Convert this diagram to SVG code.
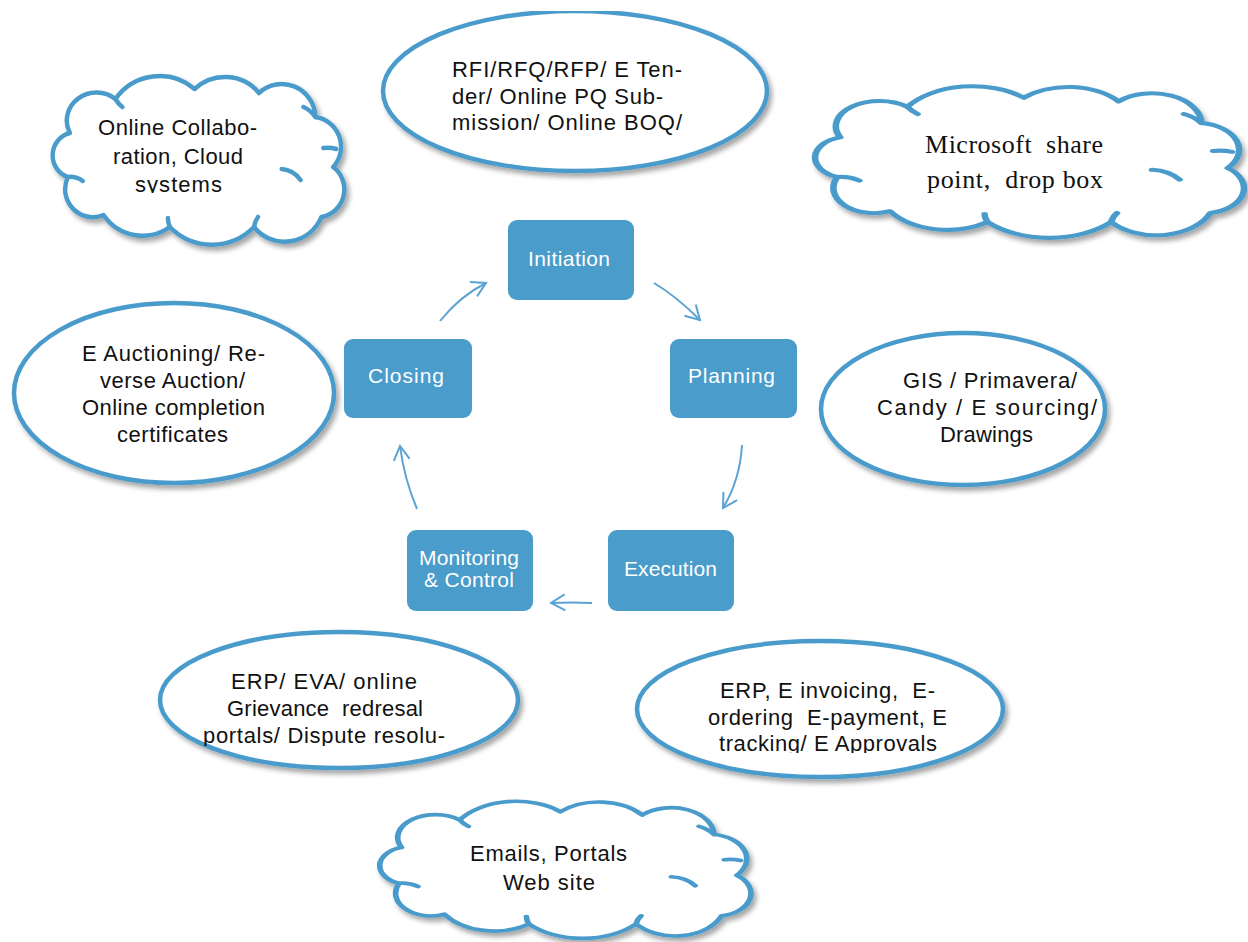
<svg xmlns="http://www.w3.org/2000/svg" width="1248" height="942" viewBox="0 0 1248 942">
  <style>
    .bubble { fill: #ffffff; stroke: #4a9bcb; stroke-width: 4.5; }
    .cloud { fill: #ffffff; stroke: #4a9bcb; stroke-width: 4.5; stroke-linejoin: round; }
    .hook { fill: none; stroke: #4a9bcb; stroke-width: 4.5; stroke-linecap: round; }
    .phase { fill: #4a9cca; }
    .note { font-family: "Liberation Sans", Arial, sans-serif; font-size: 22px; fill: #111111; white-space: pre; }
    .serif { font-family: "Liberation Serif", "Times New Roman", serif; font-size: 26px; fill: #111111; white-space: pre; }
    .label { font-family: "Liberation Sans", Arial, sans-serif; font-size: 21px; fill: #ffffff; }
    .flow { fill: none; stroke: #5aa3d4; stroke-width: 2; marker-end: url(#chevron); }
  </style>
  <defs>
    <filter id="shadow" x="-10%" y="-10%" width="125%" height="130%">
      <feDropShadow dx="3" dy="4" stdDeviation="2.5" flood-color="#000000" flood-opacity="0.35"/>
    </filter>
    <marker id="chevron" viewBox="0 0 20 20" refX="18" refY="10" markerWidth="20" markerHeight="20" markerUnits="userSpaceOnUse" orient="auto">
      <path d="M4 2 L18 10 L4 18" fill="none" stroke="#5aa3d4" stroke-width="2"/>
    </marker>
    <!-- generic cloud outline and inner arcs in a 292 x 166 frame -->
    <path id="cloudShape" d="M12 100 A23 23 0 0 1 14 56 A30 28 0 0 1 60 22 A55 55 0 0 1 140 12 A45 45 0 0 1 205 16 A34 34 0 0 1 262 40 A30 30 0 0 1 280 90 A28 28 0 0 1 268 140 A40 40 0 0 1 200 150 A60 60 0 0 1 115 150 A48 48 0 0 1 48 138 A28 28 0 0 1 12 100 Z"/>
    <path id="cloudHooks" d="M12 100 Q20 99 27 104 M250 30 Q257 33 262 40 M283 72 Q277 70 270 71 M228 92 Q240 93 247 103 M200 150 Q201 144 204 140 M115 150 Q113 145 113 141 M60 22 Q63 27 67 30"/>
    <clipPath id="topCut"><rect x="0" y="11" width="1248" height="931"/></clipPath>
    <clipPath id="cutCloud1"><rect x="0" y="0" width="1248" height="193"/></clipPath>
    <clipPath id="cutErpLeft"><rect x="0" y="0" width="1248" height="746"/></clipPath>
    <clipPath id="cutErpRight"><rect x="0" y="0" width="1248" height="753"/></clipPath>
  </defs>

  <!-- tool clouds -->
  <g id="cloud-collaboration">
    <g filter="url(#shadow)">
      <g transform="translate(56,77) scale(0.99,1)">
        <use href="#cloudShape" class="cloud" vector-effect="non-scaling-stroke"/>
        <use href="#cloudHooks" class="hook" vector-effect="non-scaling-stroke"/>
      </g>
    </g>
    <g clip-path="url(#cutCloud1)">
      <text class="note" x="98" y="135" textLength="159">Online Collabo-</text>
      <text class="note" x="113" y="164" textLength="130">ration, Cloud</text>
      <text class="note" x="135" y="192" textLength="87">systems</text>
    </g>
  </g>

  <g id="cloud-sharepoint">
    <g filter="url(#shadow)">
      <g transform="translate(820,87) scale(1.456,0.9)">
        <use href="#cloudShape" class="cloud" vector-effect="non-scaling-stroke"/>
        <use href="#cloudHooks" class="hook" vector-effect="non-scaling-stroke"/>
      </g>
    </g>
    <text class="serif" x="925" y="153" textLength="178">Microsoft  share</text>
    <text class="serif" x="927" y="188" textLength="176">point,  drop box</text>
  </g>

  <g id="cloud-emails">
    <g filter="url(#shadow)">
      <g transform="translate(384,802) scale(1.26,0.813)">
        <use href="#cloudShape" class="cloud" vector-effect="non-scaling-stroke"/>
        <use href="#cloudHooks" class="hook" vector-effect="non-scaling-stroke"/>
      </g>
    </g>
    <text class="note" x="470" y="861" textLength="157">Emails, Portals</text>
    <text class="note" x="503" y="890" textLength="92">Web site</text>
  </g>

  <!-- tool ellipses -->
  <g id="bubble-tender" clip-path="url(#topCut)">
    <ellipse class="bubble" cx="575" cy="91" rx="192" ry="80" filter="url(#shadow)"/>
    <text class="note" x="452" y="77" textLength="230">RFI/RFQ/RFP/ E Ten-</text>
    <text class="note" x="452" y="104" textLength="211">der/ Online PQ Sub-</text>
    <text class="note" x="452" y="130" textLength="230">mission/ Online BOQ/</text>
  </g>

  <g id="bubble-auction">
    <ellipse class="bubble" cx="174" cy="393" rx="160" ry="90" filter="url(#shadow)"/>
    <text class="note" x="82" y="361" textLength="183">E Auctioning/ Re-</text>
    <text class="note" x="100" y="388" textLength="145">verse Auction/</text>
    <text class="note" x="82" y="415" textLength="183">Online completion</text>
    <text class="note" x="117" y="442" textLength="111">certificates</text>
  </g>

  <g id="bubble-planning-tools">
    <ellipse class="bubble" cx="963" cy="409" rx="142" ry="76" filter="url(#shadow)"/>
    <text class="note" x="903" y="388" textLength="174">GIS / Primavera/</text>
    <text class="note" x="877" y="415" textLength="220">Candy / E sourcing/</text>
    <text class="note" x="940" y="442" textLength="93">Drawings</text>
  </g>

  <g id="bubble-grievance">
    <ellipse class="bubble" cx="339" cy="700" rx="179" ry="68" filter="url(#shadow)"/>
    <g clip-path="url(#cutErpLeft)">
      <text class="note" x="231" y="689" textLength="186">ERP/ EVA/ online</text>
      <text class="note" x="227" y="716" textLength="196">Grievance  redresal</text>
      <text class="note" x="203" y="743" textLength="242">portals/ Dispute resolu-</text>
    </g>
  </g>

  <g id="bubble-invoicing">
    <ellipse class="bubble" cx="820" cy="709" rx="183" ry="68" filter="url(#shadow)"/>
    <g clip-path="url(#cutErpRight)">
      <text class="note" x="720" y="698" textLength="215">ERP, E invoicing,  E-</text>
      <text class="note" x="708" y="725" textLength="239">ordering  E-payment, E</text>
      <text class="note" x="719" y="751" textLength="218">tracking/ E Approvals</text>
    </g>
  </g>

  <!-- project phases -->
  <g id="phase-initiation">
    <rect class="phase" x="508" y="220" width="126" height="80" rx="9"/>
    <text class="label" x="528" y="266" textLength="82">Initiation</text>
  </g>
  <g id="phase-planning">
    <rect class="phase" x="670" y="339" width="127" height="79" rx="9"/>
    <text class="label" x="688" y="383" textLength="87">Planning</text>
  </g>
  <g id="phase-execution">
    <rect class="phase" x="608" y="530" width="126" height="81" rx="9"/>
    <text class="label" x="624" y="576" textLength="93">Execution</text>
  </g>
  <g id="phase-monitoring">
    <rect class="phase" x="407" y="530" width="126" height="81" rx="9"/>
    <text class="label" x="419" y="565" textLength="100">Monitoring</text>
    <text class="label" x="424" y="587" textLength="90">&amp; Control</text>
  </g>
  <g id="phase-closing">
    <rect class="phase" x="344" y="339" width="128" height="79" rx="9"/>
    <text class="label" x="368" y="383" textLength="76">Closing</text>
  </g>

  <!-- cycle connectors -->
  <g id="connectors">
    <path class="flow" d="M440 321 Q460 296 486 283"/>
    <path class="flow" d="M654 283 Q676 296 700 320"/>
    <path class="flow" d="M742 445 Q740 480 723 508"/>
    <path class="flow" d="M592 603 Q571 602 551 603"/>
    <path class="flow" d="M417 509 Q404 478 400 446"/>
  </g>
</svg>
